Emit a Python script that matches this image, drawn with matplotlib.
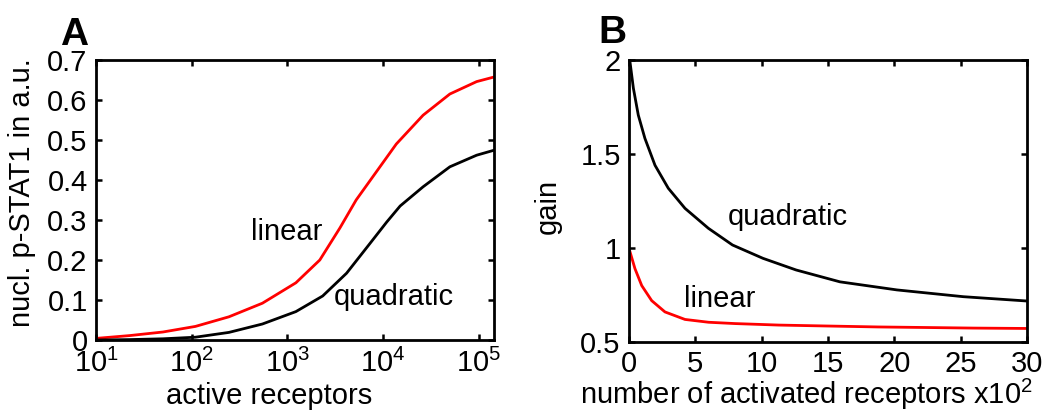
import numpy as np
import matplotlib
matplotlib.use('Agg')
import matplotlib.pyplot as plt

# panel A: nuclear p-STAT1 vs active receptors (log10 of receptors)
logx_lin = [1.0, 1.35, 1.70, 2.04, 2.39, 2.74, 3.09, 3.34, 3.55, 3.72, 3.93, 4.14, 4.42, 4.70, 4.98, 5.17]
pstat_lin = [0.004, 0.011, 0.020, 0.034, 0.058, 0.092, 0.143, 0.200, 0.280, 0.350, 0.420, 0.490, 0.562, 0.615, 0.646, 0.658]
logx_quad = [1.0, 1.35, 1.70, 2.04, 2.39, 2.74, 3.09, 3.37, 3.62, 3.86, 4.04, 4.18, 4.42, 4.70, 4.98, 5.17]
pstat_quad = [0.0, 0.001, 0.003, 0.007, 0.019, 0.040, 0.071, 0.110, 0.167, 0.240, 0.295, 0.335, 0.383, 0.433, 0.462, 0.475]

# panel B: gain vs number of activated receptors (x10^2)
n_quad = [0.075, 0.33, 0.70, 1.2, 1.96, 2.96, 4.22, 5.98, 7.8, 10.1, 12.6, 15.9, 20.2, 25.2, 30.0]
gain_quad = [1.99, 1.85, 1.707, 1.583, 1.44, 1.318, 1.211, 1.105, 1.016, 0.945, 0.883, 0.82, 0.777, 0.741, 0.718]
n_lin = [0.075, 0.45, 0.96, 1.71, 2.71, 4.22, 6.0, 8.0, 11.3, 15.0, 18.8, 22.5, 26.0, 30.0]
gain_lin = [0.98, 0.89, 0.80, 0.72, 0.66, 0.62, 0.605, 0.598, 0.59, 0.585, 0.58, 0.577, 0.574, 0.572]

plt.rcParams['font.family'] = ['Liberation Sans', 'DejaVu Sans']
plt.rcParams['mathtext.fontset'] = 'custom'
plt.rcParams['mathtext.rm'] = 'Liberation Sans'
plt.rcParams['mathtext.it'] = 'Liberation Sans'
plt.rcParams['font.size'] = 21

fig = plt.figure(figsize=(10.45, 4.12), dpi=100)
axA = fig.add_axes([96/1045, 1-340/412, 398/1045, 280/412])
axB = fig.add_axes([629/1045, 1-342/412, 398/1045, 282/412])

lw = 2.0
axA.plot(10**np.array(logx_lin), pstat_lin, color='red', lw=lw)
axA.plot(10**np.array(logx_quad), pstat_quad, color='black', lw=lw)
axA.set_xscale('log')
axA.set_xlim(10, 1.45e5)
axA.set_ylim(0, 0.7)
axA.set_yticks(np.arange(0, 0.71, 0.1))
axA.set_yticklabels(['0', '0.1', '0.2', '0.3', '0.4', '0.5', '0.6', '0.7'])
axA.set_xticks([1e1, 1e2, 1e3, 1e4, 1e5])
axA.set_xticklabels(['$10^1$', '$10^2$', '$10^3$', '$10^4$', '$10^5$'])
axA.text(990, 0.27, 'linear', ha='center', va='center')
axA.text(1.3e4, 0.107, 'quadratic', ha='center', va='center')
axA.set_xlabel('active receptors')
axA.xaxis.set_label_coords(0.435, -0.15)
axA.set_ylabel('nucl. p-STAT1 in a.u.')
axA.yaxis.set_label_coords(-0.15, 0.525)

axB.plot(n_quad, gain_quad, color='black', lw=lw)
axB.plot(n_lin, gain_lin, color='red', lw=lw)
axB.set_xlim(0, 30)
axB.set_ylim(0.5, 2)
axB.set_xticks([0, 5, 10, 15, 20, 25, 30])
axB.set_yticks([0.5, 1, 1.5, 2])
axB.set_yticklabels(['0.5', '1', '1.5', '2'])
axB.text(12.0, 1.166, 'quadratic', ha='center', va='center')
axB.text(6.86, 0.73, 'linear', ha='center', va='center')
axB.set_xlabel('number of activated receptors x10$^2$')
axB.xaxis.set_label_coords(0.445, -0.125)
axB.set_ylabel('gain')
axB.yaxis.set_label_coords(-0.17, 0.482)

for ax in (axA, axB):
    for s in ax.spines.values():
        s.set_linewidth(2.0)
    ax.tick_params(which='major', direction='in', length=4.5, width=1.8,
                   top=True, right=True, pad=6)
    ax.tick_params(which='minor', direction='in', length=2.5, width=1.2,
                   top=True, right=True)

fig.text(60/1045, 1-45/412, 'A', fontsize=28, fontweight='bold')
fig.text(598/1045, 1-43/412, 'B', fontsize=28, fontweight='bold')

fig.savefig('out.png', dpi=100)
